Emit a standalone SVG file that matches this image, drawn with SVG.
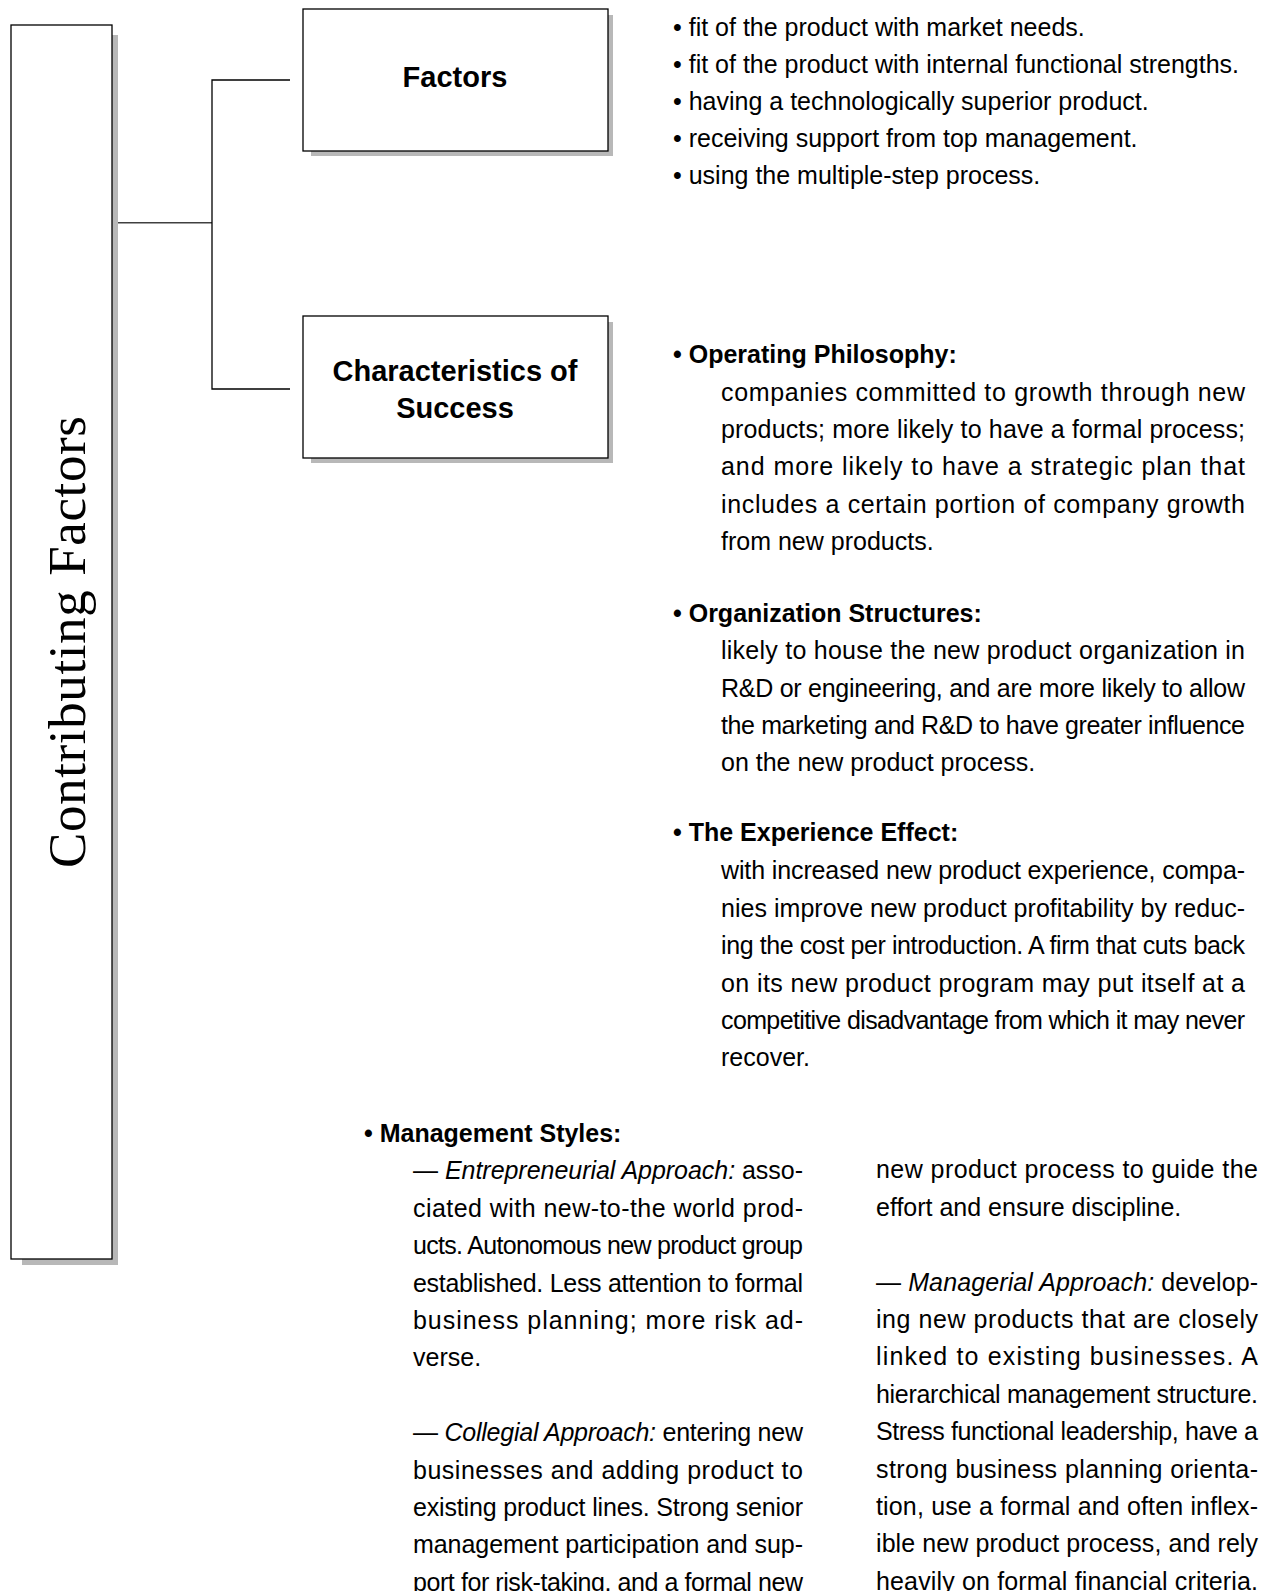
<svg xmlns="http://www.w3.org/2000/svg" width="1270" height="1591" viewBox="0 0 1270 1591">
<style>
.box{fill:#fff;stroke:#000;stroke-width:1.3}
.shadow{fill:#b8b8b8}
.conn{fill:none;stroke:#000;stroke-width:1.3}
.title{font-family:"Liberation Sans",Arial,sans-serif;font-weight:bold;font-size:29px;text-anchor:middle;fill:#000}
.t{font-family:"Liberation Sans",Arial,sans-serif;font-size:25px;fill:#000}
.b{font-weight:bold}
.i{font-style:italic}
.serif{font-family:"Liberation Serif","Times New Roman",serif;font-size:53px;fill:#000;text-anchor:middle}
</style>
<rect width="1270" height="1591" fill="#fff"/>

<g id="connectors">
  <line x1="118" y1="222.7" x2="212" y2="222.7" style="stroke:#404040;stroke-width:1.6"/>
  <polyline class="conn" points="290,80 212,80 212,389 290,389"/>
</g>

<g id="node-contributing">
  <rect class="shadow" x="22" y="35" width="96" height="1230"/>
  <rect class="box" x="11" y="25" width="101" height="1234"/>
  <text class="serif" transform="translate(85,642) rotate(-90)" textLength="452" lengthAdjust="spacing">Contributing Factors</text>
</g>

<g id="node-factors">
  <rect class="shadow" x="311" y="15" width="302" height="141"/>
  <rect class="box" x="303" y="9" width="305" height="142"/>
  <text class="title" x="455" y="87">Factors</text>
</g>

<g id="node-characteristics">
  <rect class="shadow" x="311" y="322" width="302" height="141"/>
  <rect class="box" x="303" y="316" width="305" height="142"/>
  <text class="title" x="455" y="381">Characteristics of</text>
  <text class="title" x="455" y="417.5">Success</text>
</g>

<g id="factors-list" class="t">
  <text x="673" y="36">• fit of the product with market needs.</text>
  <text x="673" y="73">• fit of the product with internal functional strengths.</text>
  <text x="673" y="110">• having a technologically superior product.</text>
  <text x="673" y="147">• receiving support from top management.</text>
  <text x="673" y="184">• using the multiple-step process.</text>
</g>

<g id="operating-philosophy" class="t">
  <text class="b" x="673" y="363.3">• Operating Philosophy:</text>
  <text x="721" y="400.7" textLength="524" lengthAdjust="spacing">companies committed to growth through new</text>
  <text x="721" y="438" textLength="524" lengthAdjust="spacing">products; more likely to have a formal process;</text>
  <text x="721" y="475.3" textLength="524" lengthAdjust="spacing">and more likely to have a strategic plan that</text>
  <text x="721" y="512.6" textLength="524" lengthAdjust="spacing">includes a certain portion of company growth</text>
  <text x="721" y="550">from new products.</text>
</g>

<g id="organization-structures" class="t">
  <text class="b" x="673" y="621.7">• Organization Structures:</text>
  <text x="721" y="659.3" textLength="524" lengthAdjust="spacing">likely to house the new product organization in</text>
  <text x="721" y="696.7" textLength="524" lengthAdjust="spacing">R&amp;D or engineering, and are more likely to allow</text>
  <text x="721" y="734" textLength="524" lengthAdjust="spacing">the marketing and R&amp;D to have greater influence</text>
  <text x="721" y="771.3">on the new product process.</text>
</g>

<g id="experience-effect" class="t">
  <text class="b" x="673" y="840.7">• The Experience Effect:</text>
  <text x="721" y="879" textLength="524" lengthAdjust="spacing">with increased new product experience, compa-</text>
  <text x="721" y="916.5" textLength="524" lengthAdjust="spacing">nies improve new product profitability by reduc-</text>
  <text x="721" y="954" textLength="524" lengthAdjust="spacing">ing the cost per introduction. A firm that cuts back</text>
  <text x="721" y="991.5" textLength="524" lengthAdjust="spacing">on its new product program may put itself at a</text>
  <text x="721" y="1028.8" textLength="524" lengthAdjust="spacing">competitive disadvantage from which it may never</text>
  <text x="721" y="1066">recover.</text>
</g>

<g id="management-styles" class="t">
  <text class="b" x="364" y="1141.7">• Management Styles:</text>
  <text x="413" y="1179.3" textLength="390" lengthAdjust="spacing">— <tspan class="i">Entrepreneurial Approach:</tspan> asso-</text>
  <text x="413" y="1216.7" textLength="390" lengthAdjust="spacing">ciated with new-to-the world prod-</text>
  <text x="413" y="1254.1" textLength="390" lengthAdjust="spacing">ucts. Autonomous new product group</text>
  <text x="413" y="1291.5" textLength="390" lengthAdjust="spacing">established. Less attention to formal</text>
  <text x="413" y="1328.9" textLength="390" lengthAdjust="spacing">business planning; more risk ad-</text>
  <text x="413" y="1366.3">verse.</text>
  <text x="413" y="1441.1" textLength="390" lengthAdjust="spacing">— <tspan class="i">Collegial Approach:</tspan> entering new</text>
  <text x="413" y="1478.5" textLength="390" lengthAdjust="spacing">businesses and adding product to</text>
  <text x="413" y="1515.9" textLength="390" lengthAdjust="spacing">existing product lines. Strong senior</text>
  <text x="413" y="1553.3" textLength="390" lengthAdjust="spacing">management participation and sup-</text>
  <text x="413" y="1590.7" textLength="390" lengthAdjust="spacing">port for risk-taking, and a formal new</text>

  <text x="876" y="1178.3" textLength="382" lengthAdjust="spacing">new product process to guide the</text>
  <text x="876" y="1215.7">effort and ensure discipline.</text>
  <text x="876" y="1290.5" textLength="382" lengthAdjust="spacing">— <tspan class="i">Managerial Approach:</tspan> develop-</text>
  <text x="876" y="1327.9" textLength="382" lengthAdjust="spacing">ing new products that are closely</text>
  <text x="876" y="1365.3" textLength="382" lengthAdjust="spacing">linked to existing businesses. A</text>
  <text x="876" y="1402.7" textLength="382" lengthAdjust="spacing">hierarchical management structure.</text>
  <text x="876" y="1440.1" textLength="382" lengthAdjust="spacing">Stress functional leadership, have a</text>
  <text x="876" y="1477.5" textLength="382" lengthAdjust="spacing">strong business planning orienta-</text>
  <text x="876" y="1514.9" textLength="382" lengthAdjust="spacing">tion, use a formal and often inflex-</text>
  <text x="876" y="1552.3" textLength="382" lengthAdjust="spacing">ible new product process, and rely</text>
  <text x="876" y="1589.7" textLength="382" lengthAdjust="spacing">heavily on formal financial criteria.</text>
</g>
</svg>
